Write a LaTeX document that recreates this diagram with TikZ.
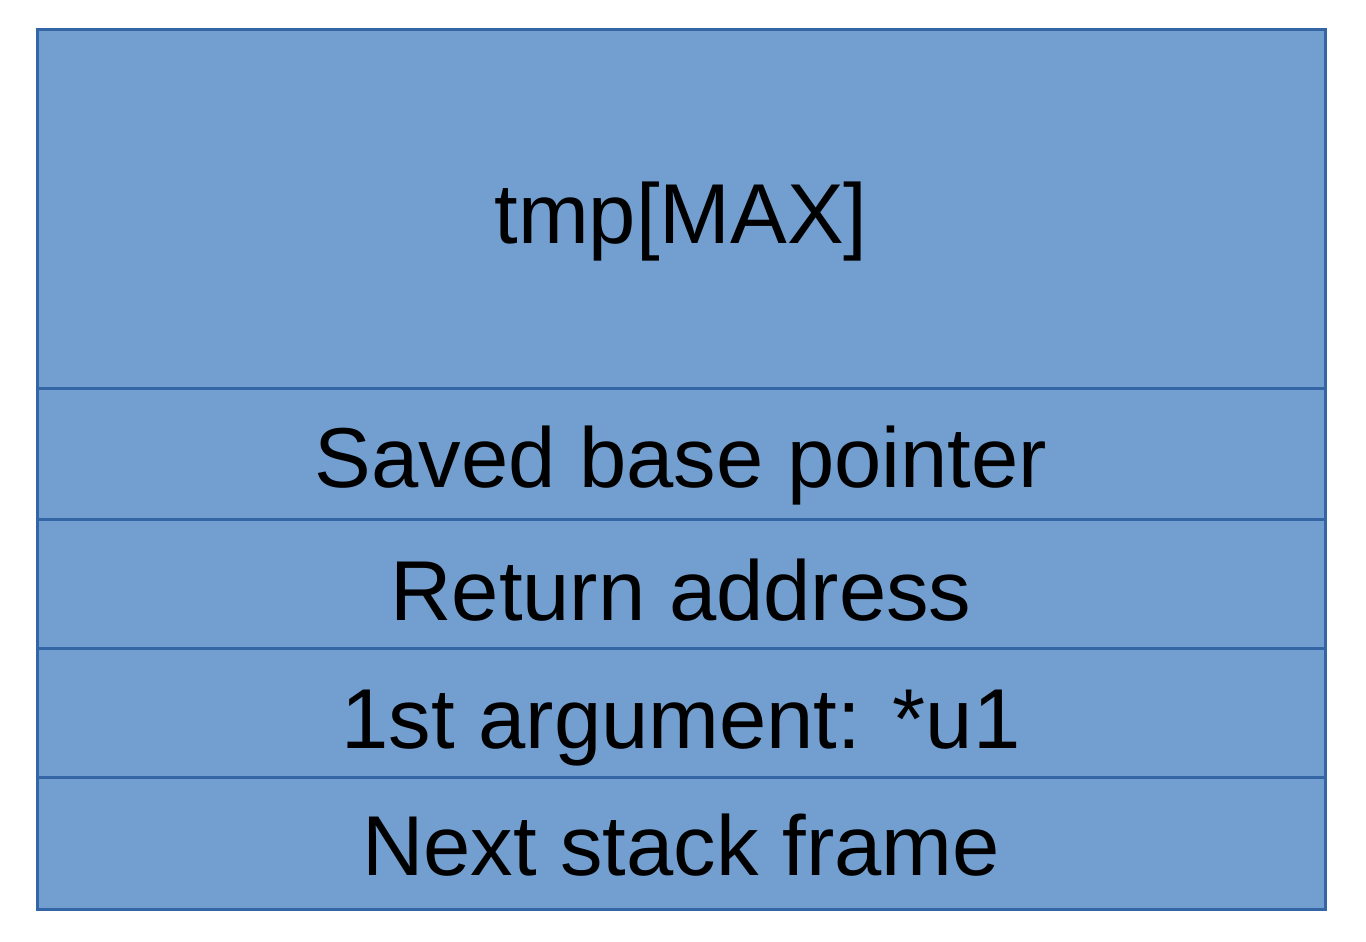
\documentclass[tikz,border=0pt]{standalone}
\usepackage{fontspec}
\setmainfont{Liberation Sans}
\definecolor{cellfill}{HTML}{729FCF}
\definecolor{celledge}{HTML}{3465A4}
\begin{document}
\begin{tikzpicture}[x=1pt,y=-1pt,
  cell/.style={draw=celledge, fill=cellfill, line width=3pt, minimum width=1288pt,
    inner sep=0pt, outer sep=0pt, anchor=north west},
  celltext/.style={font=\fontsize{85}{100}\selectfont, text=black, inner sep=0pt, anchor=base}]
  \useasboundingbox (0,0) rectangle (1366,942);
  % stack frame cells, top to bottom
  \node[cell, minimum height=358pt] (tmp) at (37,30) {};
  \node[cell, minimum height=131pt] (sbp) at (37,388) {};
  \node[cell, minimum height=129pt] (ret) at (37,519) {};
  \node[cell, minimum height=129pt] (arg) at (37,648) {};
  \node[cell, minimum height=132pt] (nxt) at (37,777) {};
  % cell labels, placed on their baselines
  \node[celltext] (tmpL) at (681,243) {tmp[MAX]};
  \node[celltext] (sbpL) at (681,487) {Saved base pointer};
  \node[celltext] (retL) at (681,620) {Return address};
  \node[celltext] (argL) at (681,748) {1st argument: *u1};
  \node[celltext] (nxtL) at (681,875) {Next stack frame};
\end{tikzpicture}
\end{document}
